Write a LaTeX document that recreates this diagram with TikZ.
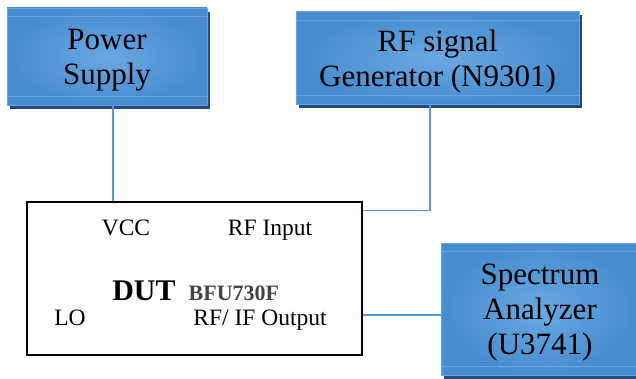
\documentclass[tikz,border=0pt]{standalone}
\usepackage{fontspec}
\setmainfont{Liberation Serif}
\usepackage{xcolor}
\usetikzlibrary{calc, shadows}

\definecolor{boxblue}{RGB}{70,140,206}
\definecolor{boxlight}{RGB}{106,168,226}
\definecolor{boxshadow}{RGB}{34,74,122}
\definecolor{bandblue}{RGB}{104,164,224}
\definecolor{wireblue}{RGB}{88,152,222}
\definecolor{partgray}{RGB}{68,68,68}

\tikzset{
	instr/.style={rectangle, draw=bandblue, line width=0.6pt, inner color=boxlight, outer color=boxblue,
		general shadow={fill=boxshadow, shadow xshift=3pt, shadow yshift=-4pt},
		align=center, font=\fontsize{31}{35}\selectfont, text depth=-2pt},
	wire/.style={draw=wireblue, line width=1.1pt},
	pinlabel/.style={anchor=base, font=\fontsize{23.5}{25}\selectfont}
}

\begin{document}
\begin{tikzpicture}[x=1pt, y=-1pt]
		%picture frame
		\useasboundingbox (0,0) rectangle (636,379);
		
		%instruments
		\node [instr, minimum width=200pt, minimum height=97pt] (power) at (107,56.5) {Power\\Supply};
		\node [instr, minimum width=283pt, minimum height=93pt] (gen) at (437.5,58) {RF signal\\Generator (N9301)};
		\node [instr, minimum width=198pt, minimum height=132pt] (spec) at (540,309) {Spectrum\\Analyzer\\(U3741)};
		
		%light bands near top and bottom
		\foreach \b in {power, gen, spec} {
			\draw [bandblue, line width=0.8pt] ([yshift=-9pt]\b.north west) -- ([yshift=-9pt]\b.north east);
			\draw [bandblue, line width=0.8pt] ([yshift=9pt]\b.south west) -- ([yshift=9pt]\b.south east);
		}
		
		%device under test
		\node [draw=black, line width=1.5pt, minimum width=335pt, minimum height=153pt] (dut) at (194.5,278.5) {};
		\node [pinlabel] (vcc) at (126,235) {VCC};
		\node [pinlabel] (rfin) at (270,235) {RF Input};
		\node [pinlabel] (lo) at (70,325) {LO};
		\node [pinlabel] (rfout) at (260,325) {RF/ IF Output};
		\node [anchor=base, font=\fontsize{30}{32}\selectfont\bfseries] (dutname) at (144,300) {DUT};
		\node [anchor=base west, xshift=6pt, text=partgray, font=\fontsize{22}{24}\selectfont\bfseries] (part) at (dutname.base east) {BFU730F};
		
		%connections
		\draw [wire] ([xshift=6pt]power.south) -- ([xshift=6pt]power.south |- dut.north);
		\draw [wire] ([xshift=-7.5pt]gen.south) |- ([yshift=-9.5pt]dut.north east);
		\draw [wire] ([yshift=-6pt]spec.west) -- ([yshift=-6pt]spec.west -| dut.east);
	\end{tikzpicture}
\end{document}
